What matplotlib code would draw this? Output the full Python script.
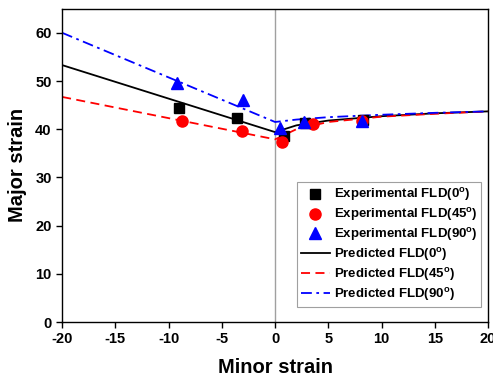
import matplotlib
matplotlib.use("Agg")
import matplotlib.pyplot as plt

plt.rcParams['font.family'] = ['Liberation Sans', 'DejaVu Sans']
plt.rcParams['font.weight'] = 'bold'
plt.rcParams['axes.unicode_minus'] = False
plt.rcParams['mathtext.fontset'] = 'custom'
plt.rcParams['mathtext.rm'] = 'Liberation Sans:bold'
plt.rcParams['mathtext.bf'] = 'Liberation Sans:bold'

# Experimental data
exp0_x = [-9.0, -3.6, 2.8, 8.3, 0.85]
exp0_y = [44.4, 42.3, 41.3, 41.9, 38.6]
exp45_x = [-8.7, -3.1, 0.65, 3.6, 8.2]
exp45_y = [41.7, 39.7, 37.4, 41.1, 41.7]
exp90_x = [-9.2, -3.0, 0.5, 2.7, 8.2]
exp90_y = [49.6, 46.0, 40.2, 41.5, 41.7]

# Predicted curves
pred_x = [-20, 0, 2, 5, 10, 15, 20]
pred0_y = [53.3, 39.4, 40.8, 41.8, 42.7, 43.3, 43.7]
pred45_y = [46.7, 37.9, 40.0, 41.5, 42.6, 43.2, 43.7]
pred90_y = [60.0, 41.5, 42.0, 42.5, 43.0, 43.4, 43.7]

fig = plt.figure(figsize=(4.93, 3.78), dpi=100)
ax = fig.add_axes([0.126, 0.148, 0.864, 0.829])

ax.axvline(0, color='#a0a0a0', lw=1.0, zorder=1)

l0, = ax.plot(pred_x, pred0_y, '-', color='black', lw=1.3, zorder=2)
l45, = ax.plot(pred_x, pred45_y, '--', color='red', lw=1.3, dashes=(5, 3), zorder=2)
l90, = ax.plot(pred_x, pred90_y, '-.', color='blue', lw=1.3, dashes=(6, 2.5, 1.5, 2.5), zorder=2)

s0, = ax.plot(exp0_x, exp0_y, 's', color='black', ms=7, ls='none', zorder=3)
s45, = ax.plot(exp45_x, exp45_y, 'o', color='red', ms=8, ls='none', zorder=4)
s90, = ax.plot(exp90_x, exp90_y, '^', color='blue', ms=8.5, ls='none', zorder=5)

ax.set_xlim(-20, 20)
ax.set_ylim(0, 65)
ax.set_xticks(range(-20, 21, 5))
ax.set_yticks(range(0, 61, 10))
ax.tick_params(direction='out', length=4, labelsize=10.5, width=1)
for lab in ax.get_xticklabels() + ax.get_yticklabels():
    lab.set_fontweight('bold')
for sp in ax.spines.values():
    sp.set_linewidth(1.0)

ax.set_xlabel('Minor strain', fontsize=14.5, fontweight='bold', labelpad=8)
ax.set_ylabel('Major strain', fontsize=14.5, fontweight='bold', labelpad=6)

labels = [r'Experimental FLD(0$^\mathrm{o}$)', r'Experimental FLD(45$^\mathrm{o}$)',
          r'Experimental FLD(90$^\mathrm{o}$)', r'Predicted FLD(0$^\mathrm{o}$)',
          r'Predicted FLD(45$^\mathrm{o}$)', r'Predicted FLD(90$^\mathrm{o}$)']
leg = ax.legend([s0, s45, s90, l0, l45, l90], labels, loc='lower right',
                bbox_to_anchor=(0.99, 0.04), fontsize=9.5, frameon=True,
                fancybox=False, edgecolor='#888888', handlelength=2.2,
                handletextpad=0.3, borderpad=0.3, labelspacing=0.22,
                borderaxespad=0.2)
leg.get_frame().set_linewidth(0.8)
for t in leg.get_texts():
    t.set_fontweight('bold')

fig.savefig('out.png', dpi=100)
